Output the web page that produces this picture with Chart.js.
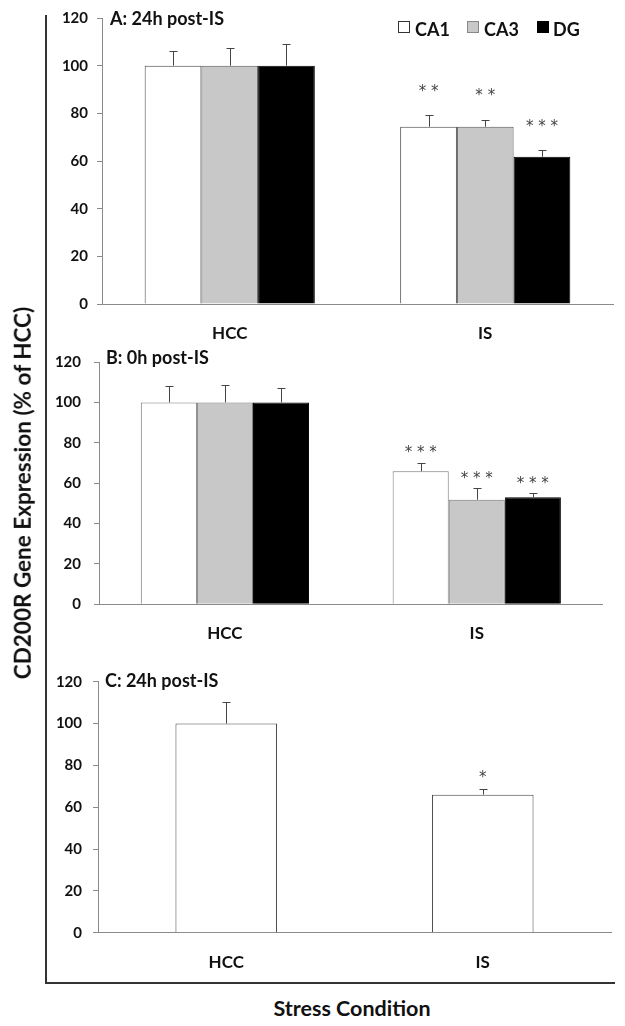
<!DOCTYPE html>
<html><head><meta charset="utf-8">
<script src="https://cdn.jsdelivr.net/npm/chart.js@4.4.1/dist/chart.umd.min.js"></script>
<style>
body{margin:0;background:#fff;width:625px;height:1026px;position:relative;overflow:hidden;font-family:Lato,sans-serif;}
canvas{position:absolute;left:0;}
.t{position:absolute;font-weight:bold;color:#111;white-space:nowrap;line-height:1;transform:translateY(-50%);}
.box{position:absolute;width:10px;height:10px;border:1px solid #333;}
.line{position:absolute;background:#333;}
</style></head><body>
<canvas id="cA" width="625" height="340" style="top:0"></canvas>
<canvas id="cB" width="625" height="305" style="top:340px"></canvas>
<canvas id="cC" width="625" height="330" style="top:645px"></canvas>

<div class="t" style="left:110px;top:18px;font-size:18px">A: 24h post-IS</div>
<div class="t" style="left:106px;top:357px;font-size:18px">B: 0h post-IS</div>
<div class="t" style="left:105px;top:680px;font-size:18px">C: 24h post-IS</div>

<div class="box" style="left:398px;top:21px;background:#fff"></div>
<div class="t" style="left:415px;top:29px;font-size:18px">CA1</div>
<div class="box" style="left:467px;top:21px;background:#c8c8c8;border-color:#888"></div>
<div class="t" style="left:484px;top:29px;font-size:18px">CA3</div>
<div class="box" style="left:537px;top:21px;background:#000;border-color:#000"></div>
<div class="t" style="left:553px;top:29px;font-size:18px">DG</div>

<div class="line" style="left:45px;top:15px;width:2px;height:969px"></div>
<div class="line" style="left:45px;top:982px;width:570px;height:2px"></div>

<div class="t" style="left:-177px;top:493px;width:400px;text-align:center;font-size:22.5px;transform:translateY(-50%) rotate(-90deg)">CD200R Gene Expression (% of HCC)</div>
<div class="t" style="left:202px;top:1009px;width:300px;text-align:center;font-size:21.5px">Stress Condition</div>

<script>
const categories = ['HCC', 'IS'];
const seriesNames = ['CA1', 'CA3', 'DG'];
const yTicks = [0, 20, 40, 60, 80, 100, 120];

// Panel A: 24h post-IS
const aCA1 = [100, 74.4], aCA3 = [100, 74.4], aDG = [100, 61.8];
const aCA1Err = [6.3, 4.8], aCA3Err = [7.6, 3.0], aDGErr = [9.3, 2.8];
const aCA1Sig = ['', '**'], aCA3Sig = ['', '**'], aDGSig = ['', '***'];

// Panel B: 0h post-IS
const bCA1 = [100, 65.9], bCA3 = [100, 51.8], bDG = [100, 53.0];
const bCA1Err = [8.0, 4.2], bCA3Err = [8.6, 5.6], bDGErr = [7.0, 2.0];
const bCA1Sig = ['', '***'], bCA3Sig = ['', '***'], bDGSig = ['', '***'];

// Panel C: 24h post-IS (single series)
const cVals = [100, 66];
const cErr = [10.5, 2.5];
const cSig = ['', '*'];

Chart.defaults.font.family = 'Lato';
Chart.defaults.font.weight = 'bold';
Chart.defaults.color = '#111';
Chart.defaults.animation = false;

const colors = {
  CA1: {bg: '#ffffff', bd: '#444'},
  CA3: {bg: '#c8c8c8', bd: '#555'},
  DG: {bg: '#000000', bd: '#000'}
};

const errPlugin = {
  id: 'errbars',
  afterDatasetsDraw(chart, args, opts) {
    const ctx = chart.ctx, y = chart.scales.y;
    chart.data.datasets.forEach((ds, di) => {
      const meta = chart.getDatasetMeta(di);
      meta.data.forEach((bar, i) => {
        const v = ds.data[i], e = ds.err[i];
        const yTop = y.getPixelForValue(v + e);
        ctx.save();
        ctx.strokeStyle = '#444';
        ctx.lineWidth = 1;
        ctx.beginPath();
        const x = Math.round(bar.x) + 0.5;
        ctx.moveTo(x, bar.y);
        ctx.lineTo(x, Math.round(yTop) + 0.5);
        ctx.moveTo(x - 4, Math.round(yTop) + 0.5);
        ctx.lineTo(x + 4, Math.round(yTop) + 0.5);
        ctx.stroke();
        const s = ds.sig[i];
        if (s) {
          ctx.fillStyle = '#444';
          ctx.font = '15px "DejaVu Sans"';
          ctx.textAlign = 'center';
          ctx.textBaseline = 'alphabetic';
          const cy = yTop - opts.starGap;
          ctx.fillText(s.split('').join(' '), bar.x, cy + 0.58 * 15);
        }
        ctx.restore();
      });
    });
  }
};

function makeChart(id, datasets, cfg) {
  return new Chart(document.getElementById(id), {
    type: 'bar',
    data: {labels: categories, datasets},
    plugins: [errPlugin],
    options: {
      responsive: false,
      devicePixelRatio: 1,
      layout: {padding: {top: cfg.top, right: cfg.right, left: 0, bottom: 0}},
      plugins: {legend: {display: false}, tooltip: {enabled: false}, errbars: {starGap: cfg.starGap}},
      datasets: {bar: {barPercentage: 1, categoryPercentage: cfg.catPct, borderWidth: 1, borderSkipped: 'bottom'}},
      scales: {
        x: {
          grid: {display: false, drawTicks: false},
          border: {display: true, color: '#8a8a8a', width: 1},
          ticks: {padding: cfg.xPad, font: {size: 17, weight: 'bold'}, color: '#111'},
          afterFit(s) { s.height = cfg.xH; }
        },
        y: {
          min: 0, max: 120,
          afterBuildTicks(s) { s.ticks = yTicks.map(v => ({value: v})); },
          grid: {display: true, drawOnChartArea: false, drawTicks: true, tickLength: 5, color: '#8a8a8a'},
          border: {display: true, color: '#8a8a8a', width: 1},
          ticks: {padding: cfg.yPad, font: {size: 15, weight: 'bold'}, color: '#111'},
          afterFit(s) { s.width = cfg.yW; }
        }
      }
    }
  });
}

function ds(name, data, err, sig, bd) {
  return {label: name, data, err, sig, backgroundColor: colors[name].bg, borderColor: bd || colors[name].bd};
}

makeChart('cA', [
  ds('CA1', aCA1, aCA1Err, aCA1Sig),
  ds('CA3', aCA3, aCA3Err, aCA3Sig),
  ds('DG', aDG, aDGErr, aDGSig)
], {top: 16, right: 12, xH: 36, yW: 102, xPad: 19, yPad: 9, catPct: 0.666, starGap: 28});

makeChart('cB', [
  ds('CA1', bCA1, bCA1Err, bCA1Sig, '#777'),
  ds('CA3', bCA3, bCA3Err, bCA3Sig, '#777'),
  ds('DG', bDG, bDGErr, bDGSig)
], {top: 14.3, right: 22.3, xH: 40.7, yW: 99, xPad: 19, yPad: 13, catPct: 0.668, starGap: 14});

makeChart('cC', [
  ds('CA1', cVals, cErr, cSig)
], {top: 36.7, right: 14, xH: 42.3, yW: 98, xPad: 20, yPad: 11, catPct: 0.396, starGap: 16});
</script>
</body></html>
